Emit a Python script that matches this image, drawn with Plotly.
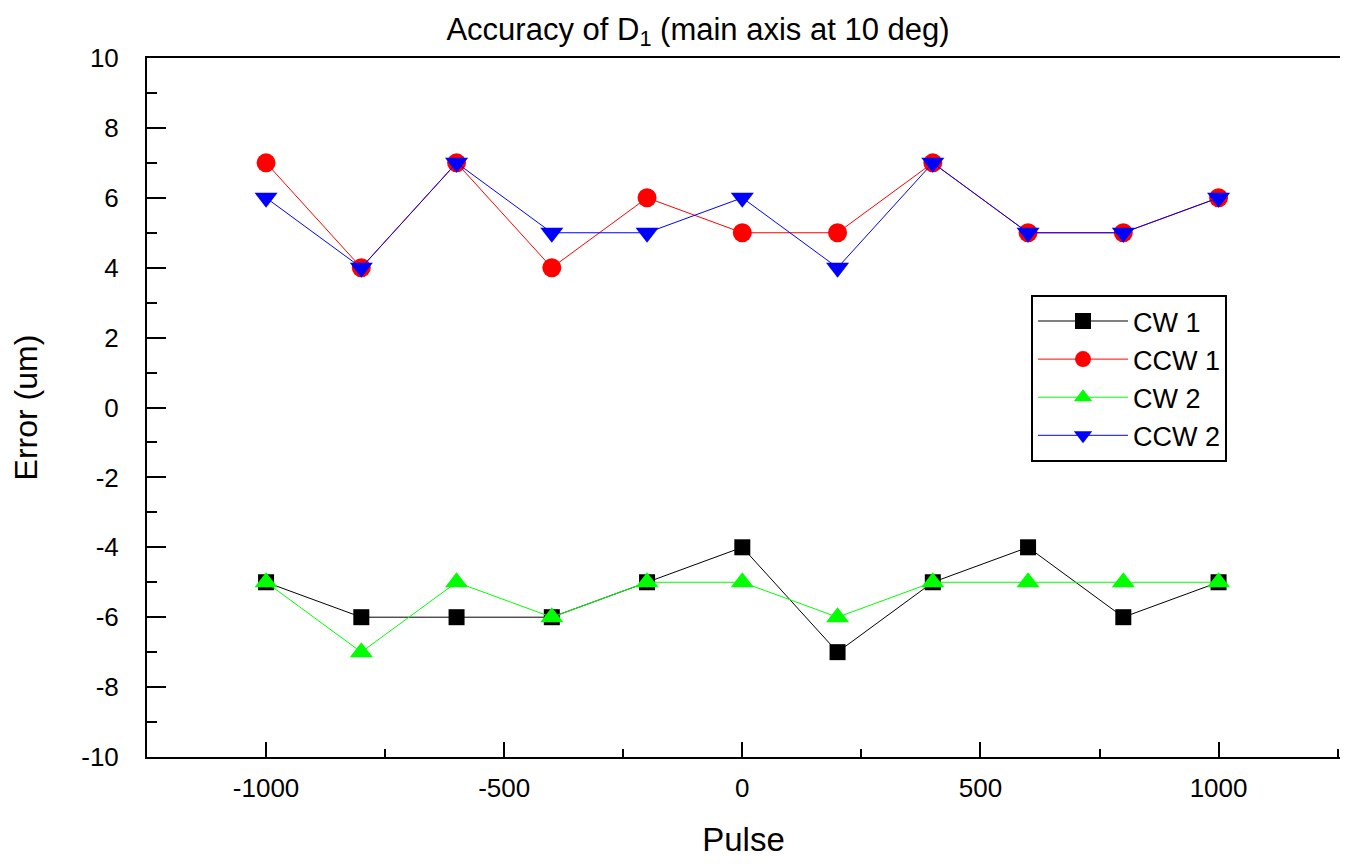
import plotly.graph_objects as go

pulse = [-1000, -800, -600, -400, -200, 0, 200, 400, 600, 800, 1000]
cw1 = [-5, -6, -6, -6, -5, -4, -7, -5, -4, -6, -5]
ccw1 = [7, 4, 7, 4, 6, 5, 5, 7, 5, 5, 6]
cw2 = [-5, -7, -5, -6, -5, -5, -6, -5, -5, -5, -5]
ccw2 = [6, 4, 7, 5, 5, 6, 4, 7, 5, 5, 6]

x_tickvals = [-1000, -500, 0, 500, 1000]
x_ticktext = ["-1000", "-500", "0", "500", "1000"]
y_tickvals = [-10, -8, -6, -4, -2, 0, 2, 4, 6, 8, 10]
y_ticktext = ["-10", "-8", "-6", "-4", "-2", "0", "2", "4", "6", "8", "10"]

series = [
    ("CW 1", cw1, "#000000", "square", 16),
    ("CCW 1", ccw1, "#ff0000", "circle", 19),
    ("CW 2", cw2, "#00ff00", "triangle-up", 20),
    ("CCW 2", ccw2, "#0000ff", "triangle-down", 20),
]

fig = go.Figure()
for name, vals, col, sym, sz in series:
    fig.add_trace(go.Scatter(
        x=pulse, y=vals, name=name, mode="lines+markers",
        line=dict(color=col, width=1),
        marker=dict(symbol=sym, size=sz, color=col, line=dict(width=0)),
    ))

font = "Liberation Sans, Arial, sans-serif"
fig.update_layout(
    width=1348, height=866,
    margin=dict(l=139, r=16, t=50, b=117),
    plot_bgcolor="white", paper_bgcolor="white",
    font=dict(family=font, color="black", size=26),
    title=dict(text="Accuracy of D<sub>1</sub> (main axis at 10 deg)",
               x=690 / 1348, xanchor="center", y=1 - 21 / 866, yanchor="middle",
               font=dict(size=31, family=font)),
    showlegend=True,
    legend=dict(x=0.741, y=0.661, xanchor="left", yanchor="top",
                bgcolor="white", bordercolor="black", borderwidth=2,
                font=dict(size=27, family=font), itemwidth=90,
                entrywidth=210, tracegroupgap=0),
)
fig.update_xaxes(
    range=[-1250, 1255], tickmode="array", tickvals=x_tickvals, ticktext=x_ticktext,
    ticks="inside", ticklen=15, tickwidth=2, tickcolor="black",
    minor=dict(dtick=250, tick0=-1000, ticks="inside", ticklen=8, tickwidth=2, tickcolor="black"),
    showline=True, linewidth=2, linecolor="black", mirror=True,
    showgrid=False, zeroline=False, automargin=False,
    tickfont=dict(size=26),
    ticklabelstandoff=7,
    title=dict(text="Pulse", font=dict(size=33), standoff=26),
)
fig.update_yaxes(
    range=[-10, 10], tickmode="array", tickvals=y_tickvals, ticktext=y_ticktext,
    ticks="inside", ticklen=19, tickwidth=2, tickcolor="black",
    minor=dict(dtick=1, ticks="inside", ticklen=10, tickwidth=2, tickcolor="black"),
    showline=True, linewidth=2, linecolor="black", mirror=True,
    showgrid=False, zeroline=False, automargin=False,
    tickfont=dict(size=26),
    ticklabelstandoff=21,
    title=dict(text="Error (um)", font=dict(size=32), standoff=45),
)

fig.write_html("out.html")
